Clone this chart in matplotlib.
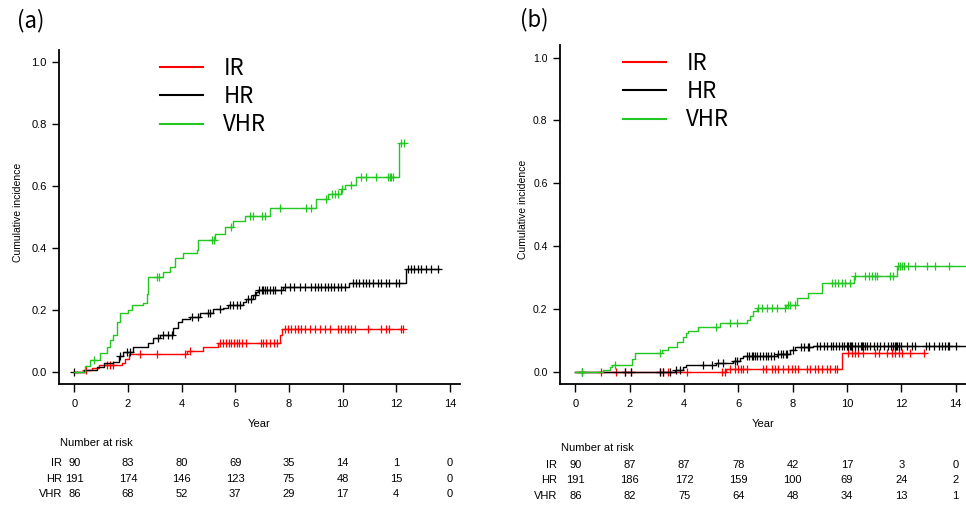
import numpy as np
import matplotlib
matplotlib.use('Agg')
import matplotlib.pyplot as plt
import matplotlib.transforms as mtrans

plt.rcParams['font.family'] = ['Liberation Sans', 'DejaVu Sans']

groups = ['IR', 'HR', 'VHR']
colors = ['#ff0000', '#000000', '#22c722']
risk_times = [0, 2, 4, 6, 8, 10, 12, 14]

# panel (a): step times / cumulative incidence / censoring times / last follow-up
a_ir_t = [0, 0.45, 0.66, 0.91, 1.77, 1.9, 2.05, 4.2, 4.8, 5.37, 7.66, 7.75]
a_ir_v = [0, 0.005, 0.014, 0.022, 0.03, 0.041, 0.058, 0.068, 0.08, 0.095, 0.12, 0.138]
a_ir_c = [0.45, 1.21, 1.34, 1.46, 2.45, 3.07, 4.13, 4.3, 5.45, 5.55, 5.65, 5.75, 5.85, 5.95,
          6.05, 6.15, 6.25, 6.4, 6.95, 7.05, 7.15, 7.3, 7.45, 7.55, 7.84, 7.97, 8.09, 8.22,
          8.34, 8.46, 8.59, 8.77, 8.96, 9.15, 9.33, 9.52, 9.83, 9.95, 10.08, 10.2, 10.32,
          10.45, 10.94, 11.44, 11.62, 11.75, 12.18, 12.24]
a_ir_end = 12.24

a_hr_t = [0, 0.35, 0.84, 1.09, 1.46, 1.65, 1.83, 2.2, 2.76, 2.95, 3.2, 3.69, 3.88, 4.0, 4.31,
          4.68, 5.18, 5.55, 5.74, 6.3, 6.42, 6.67, 6.79, 6.85, 7.78, 10.26, 12.37]
a_hr_v = [0, 0.006, 0.017, 0.028, 0.033, 0.052, 0.065, 0.079, 0.092, 0.108, 0.119, 0.141,
          0.162, 0.17, 0.178, 0.189, 0.202, 0.205, 0.216, 0.227, 0.237, 0.248, 0.259, 0.265,
          0.275, 0.288, 0.334]
a_hr_c = [0, 1.7, 1.96, 2.08, 3.13, 3.32, 3.51, 3.63, 4.37, 4.62, 4.99, 5.05, 5.43, 5.8, 5.92,
          6.05, 6.17, 6.48, 6.6, 6.72, 6.9, 6.98, 7.05, 7.12, 7.2, 7.3, 7.4, 7.5, 7.7, 7.85,
          8.03, 8.2, 8.4, 8.59, 8.84, 8.96, 9.08, 9.21, 9.33, 9.46, 9.58, 9.7, 9.83, 9.95,
          10.08, 10.39, 10.51, 10.63, 10.76, 10.88, 11.0, 11.13, 11.31, 11.44, 11.62, 11.75,
          12.0, 12.12, 12.43, 12.56, 12.68, 12.8, 12.93, 13.11, 13.3, 13.55]
a_hr_end = 13.6

a_vhr_t = [0, 0.41, 0.6, 0.97, 1.21, 1.34, 1.46, 1.59, 1.71, 2.02, 2.14, 2.55, 2.7, 2.76, 3.32,
           3.57, 3.75, 4.06, 4.56, 4.62, 5.24, 5.61, 5.92, 6.36, 7.29, 9.02, 9.46, 9.95, 10.08,
           10.51, 12.09]
a_vhr_v = [0, 0.02, 0.04, 0.061, 0.082, 0.103, 0.12, 0.16, 0.19, 0.2, 0.216, 0.223, 0.253,
           0.308, 0.324, 0.34, 0.367, 0.383, 0.394, 0.426, 0.447, 0.469, 0.488, 0.503, 0.528,
           0.56, 0.576, 0.59, 0.603, 0.63, 0.738]
a_vhr_c = [0.72, 3.07, 3.15, 5.12, 5.2, 5.86, 6.55, 6.67, 6.98, 7.1, 7.66, 8.65, 8.84, 9.4,
           9.6, 9.72, 9.85, 9.97, 10.32, 10.7, 10.89, 11.26, 11.7, 11.76, 11.82, 11.88, 12.18,
           12.3]
a_vhr_end = 12.3

a_risk_ir = [90, 83, 80, 69, 35, 14, 1, 0]
a_risk_hr = [191, 174, 146, 123, 75, 48, 15, 0]
a_risk_vhr = [86, 68, 52, 37, 29, 17, 4, 0]

# panel (b)
b_ir_t = [0, 5.56, 9.8]
b_ir_v = [0, 0.01, 0.059]
b_ir_c = [0.95, 1.5, 1.81, 2.05, 3.1, 3.22, 3.41, 4.09, 5.38, 5.5, 5.68, 5.87, 5.99, 6.11,
          6.18, 6.3, 6.91, 7.03, 7.22, 7.34, 7.47, 7.65, 7.83, 7.96, 8.08, 8.2, 8.51, 8.63,
          8.82, 8.94, 9.06, 9.25, 9.37, 9.56, 9.62, 10.05, 10.17, 10.29, 10.42, 10.6, 11.03,
          11.16, 11.46, 11.65, 11.77, 11.9, 12.02, 12.32, 12.82]
b_ir_end = 12.88

b_hr_t = [0, 3.65, 3.96, 4.08, 5.19, 5.81, 6.05, 6.18, 7.41, 7.9, 8.08, 8.75]
b_hr_v = [0, 0.005, 0.016, 0.021, 0.027, 0.034, 0.043, 0.05, 0.057, 0.07, 0.078, 0.083]
b_hr_c = [0.25, 1.81, 2.06, 3.1, 3.22, 3.47, 3.7, 3.85, 4.7, 5.01, 5.25, 5.44, 5.87, 5.95,
          6.3, 6.4, 6.5, 6.55, 6.6, 6.7, 6.8, 6.9, 7.0, 7.1, 7.2, 7.3, 7.45, 7.55, 7.65, 7.75,
          7.8, 8.0, 8.3, 8.4, 8.55, 8.6, 8.9, 9.0, 9.15, 9.25, 9.4, 9.5, 9.6, 9.7, 9.8, 9.9,
          10.0, 10.05, 10.1, 10.15, 10.2, 10.3, 10.4, 10.5, 10.55, 10.6, 10.65, 10.75, 10.85,
          11.0, 11.1, 11.2, 11.35, 11.5, 11.6, 11.7, 11.75, 11.8, 11.85, 11.9, 12.0, 12.2,
          12.4, 12.5, 12.9, 13.0, 13.2, 13.4, 13.5, 13.6, 13.7, 13.75, 14.0]
b_hr_end = 14.5

b_vhr_t = [0, 1.01, 1.26, 1.35, 2.09, 2.18, 3.2, 3.41, 3.72, 3.96, 4.06, 4.15, 4.52, 5.31,
           6.3, 6.42, 6.55, 6.67, 7.77, 8.14, 8.57, 9.06, 10.25, 11.83]
b_vhr_v = [0, 0.007, 0.016, 0.021, 0.04, 0.059, 0.07, 0.08, 0.096, 0.112, 0.123, 0.131,
           0.142, 0.155, 0.166, 0.178, 0.192, 0.203, 0.213, 0.235, 0.251, 0.283, 0.304, 0.338]
b_vhr_c = [0.25, 1.44, 3.13, 5.19, 5.68, 5.93, 6.73, 6.85, 7.04, 7.22, 7.41, 7.71, 7.83, 7.9,
           8.08, 9.43, 9.56, 9.68, 9.8, 9.93, 10.1, 10.3, 10.66, 10.79, 10.91, 11.03, 11.09,
           11.58, 11.71, 11.89, 11.96, 12.02, 12.08, 12.26, 12.51, 12.94, 13.25, 13.74]
b_vhr_end = 14.5

b_risk_ir = [90, 87, 87, 78, 42, 17, 3, 0]
b_risk_hr = [191, 186, 172, 159, 100, 69, 24, 2]
b_risk_vhr = [86, 82, 75, 64, 48, 34, 13, 1]


def draw_curve(ax, t, v, cens, end, color):
    t = np.array(t + [end])
    v = np.array(v + [v[-1]])
    ax.step(t, v, where='post', color=color, lw=1.0)
    cens = np.array(cens)
    cy = v[np.searchsorted(t, cens, side='right') - 1]
    ax.plot(cens, cy, ls='none', marker='+', ms=6, mew=0.9, color=color)


def panel(fig, rect, curves, risks, label, lab_xy, leg_anchor, ylab_x, tsize,
          risk_ys, risk_lab_x):
    ax = fig.add_axes(rect)
    for (t, v, c, e), col in zip(curves, colors):
        draw_curve(ax, t, v, c, e, col)
    ax.set_xlim(-0.57, 14.38)
    ax.set_ylim(-0.039, 1.04)
    ax.set_xticks(risk_times)
    ax.set_yticks([0, 0.2, 0.4, 0.6, 0.8, 1.0])
    ax.set_yticklabels(['0.0', '0.2', '0.4', '0.6', '0.8', '1.0'])
    ax.spines['top'].set_visible(False)
    ax.spines['right'].set_visible(False)
    for s in ['left', 'bottom']:
        ax.spines[s].set_linewidth(1.3)
    ax.tick_params(axis='x', length=6, width=1, labelsize=8, pad=5)
    ax.tick_params(axis='y', length=5, width=1, labelsize=tsize, pad=4)
    ax.set_xlabel('Year', fontsize=8, labelpad=7)
    ax.set_ylabel('Cumulative incidence', fontsize=7.5)
    ax.yaxis.set_label_coords(ylab_x, 0.515)

    handles = [plt.Line2D([], [], color=c, lw=1.5) for c in colors]
    ax.legend(handles, groups, loc='upper left', bbox_to_anchor=leg_anchor,
              frameon=False, prop={'family': 'Noto Sans CJK KR', 'size': 16},
              handlelength=1.95, handletextpad=0.9, labelspacing=0.24, borderpad=0,
              borderaxespad=0)

    fig.text(lab_xy[0], lab_xy[1], label, fontsize=16, family='Noto Sans CJK KR',
             va='center', ha='left')

    tr = mtrans.blended_transform_factory(ax.transData, fig.transFigure)
    fig.text(rect[0] + 0.001, risk_ys[0], 'Number at risk', fontsize=8, va='center')
    for name, row, y in zip(groups, risks, risk_ys[1:]):
        fig.text(risk_lab_x, y, name, fontsize=8, va='center', ha='right')
        for x, n in zip(risk_times, row):
            ax.text(x, y, str(n), transform=tr, fontsize=8, va='center', ha='center')
    return ax


fig = plt.figure(figsize=(9.66, 5.05), dpi=100)
H = 505.0
W = 966.0

curves_a = [(a_ir_t, a_ir_v, a_ir_c, a_ir_end),
            (a_hr_t, a_hr_v, a_hr_c, a_hr_end),
            (a_vhr_t, a_vhr_v, a_vhr_c, a_vhr_end)]
curves_b = [(b_ir_t, b_ir_v, b_ir_c, b_ir_end),
            (b_hr_t, b_hr_v, b_hr_c, b_hr_end),
            (b_vhr_t, b_vhr_v, b_vhr_c, b_vhr_end)]

panel(fig, [59 / W, 121 / H, 401 / W, 334 / H], curves_a,
      [a_risk_ir, a_risk_hr, a_risk_vhr], '(a)', (17 / W, 1 - 21 / H),
      (0.252, 0.98), -0.09, 8,
      [1 - 443 / H, 1 - 463 / H, 1 - 479 / H, 1 - 494 / H], 62 / W)

panel(fig, [560 / W, 121 / H, 406 / W, 339 / H], curves_b,
      [b_risk_ir, b_risk_hr, b_risk_vhr], '(b)', (520 / W, 1 - 20 / H),
      (0.155, 0.98), -0.08, 7.5,
      [1 - 448 / H, 1 - 465 / H, 1 - 480 / H, 1 - 496 / H], 557 / W)

fig.savefig('out.png', dpi=100)
